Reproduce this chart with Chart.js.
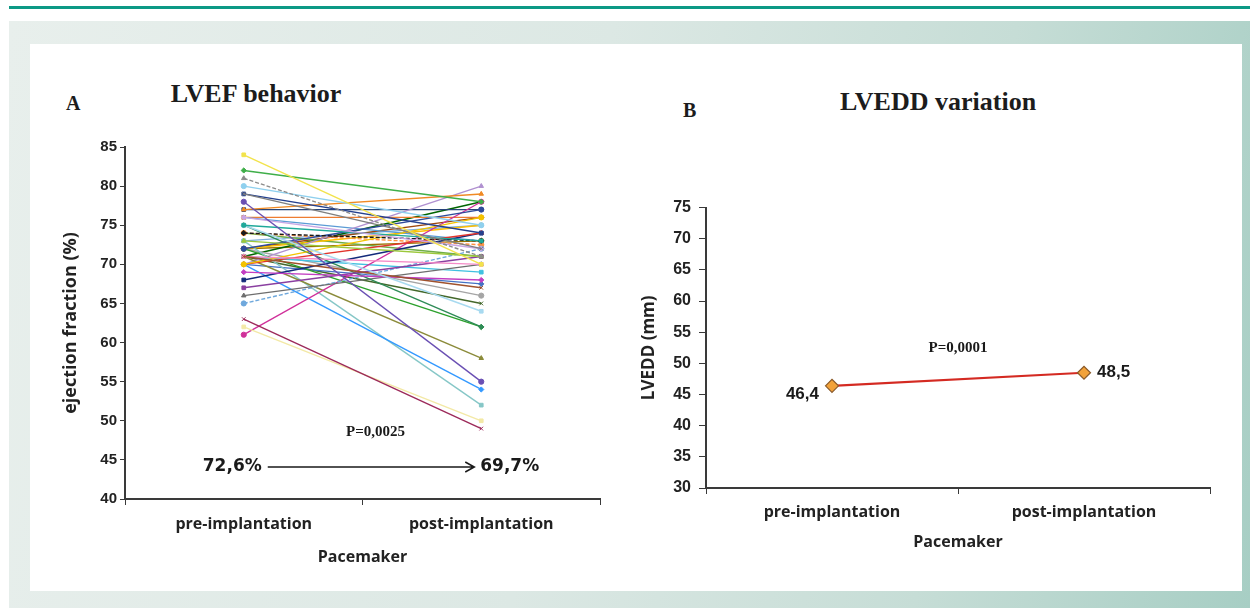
<!DOCTYPE html>
<html>
<head>
<meta charset="utf-8">
<script src="https://cdn.jsdelivr.net/npm/chart.js@4.4.1/dist/chart.umd.min.js"></script>
<style>
html, body { margin:0; padding:0; width:1250px; height:608px; overflow:hidden; background:#fff; }
#topline { position:absolute; left:9px; top:6px; width:1241px; height:3px; background:#0c9985; }
#panel { position:absolute; left:9px; top:21px; width:1241px; height:587px;
  background: linear-gradient(100deg, #e8efec 0%, #dce8e4 45%, #c6ddd6 75%, #a7cec4 100%); }
#sheet { position:absolute; left:30px; top:44px; width:1212px; height:547px; background:#fff; }
.ttl { position:absolute; font-family:'Liberation Serif','Times New Roman',serif; font-weight:bold; color:#1c1c1c; white-space:nowrap; }
canvas { position:absolute; }
</style>
</head>
<body>
<div id="topline"></div>
<div id="panel"></div>
<div id="sheet"></div>

<div class="ttl" style="left:66px;top:92px;font-size:20px;">A</div>
<div class="ttl" style="left:126px;top:79px;width:260px;text-align:center;font-size:26px;">LVEF behavior</div>
<div class="ttl" style="left:683px;top:99px;font-size:20px;">B</div>
<div class="ttl" style="left:808px;top:87px;width:260px;text-align:center;font-size:26px;">LVEDD variation</div>

<canvas id="chartA" width="580" height="440" style="left:40px;top:135px;"></canvas>
<canvas id="chartB" width="600" height="380" style="left:630px;top:190px;"></canvas>

<script>
// categories and values
var categories = ["pre-implantation", "post-implantation"];

// LVEF per patient (%)
var lvefPre  = [84, 82, 81, 80, 79, 79, 78, 77, 76, 75, 75, 74, 73, 72, 71, 71, 70, 70, 69, 68, 67, 75, 66,
                65, 63, 62, 61, 71, 70, 73, 71, 72, 70, 74, 76, 76, 72, 72, 70, 74, 77, 72, 71, 72, 71, 73];
var lvefPost = [70, 78, 71, 75, 72, 74, 55, 79, 72, 73, 64, 73, 71, 77, 67, 70, 76, 74, 68, 74, 71, 62, 70,
                72, 49, 50, 78, 58, 54, 52, 69, 62, 80, 72.5, 73, 76, 66, 75, 67.5, 71, 77, 76, 78, 73, 65, 75];
var lineColors = ['#f2e34c','#3fae49','#8c8c8c','#8fd0ee','#7f7f7f','#24408e','#6a4fb3','#f08a24','#c9a6e4','#1fa99a',
                  '#a8daf0','#1a1a1a','#9cc83b','#2f4b9b','#a0522d','#f58cc8','#f4c300','#e2342b','#c23ec2','#132a7a',
                  '#8a3fa0','#2e8b57','#6e6e6e','#6fa8dc','#9c2a5a','#f3e9a6','#d0309a','#8b8b3a','#3399ff','#86c7c7',
                  '#40c0e0','#2ca02c','#b090d0','#ff9040','#5b9bd5','#ed7d31','#a5a5a5','#ffc000','#4472c4','#70ad47',
                  '#264478','#9e480e','#006400','#997300','#43682b','#7cafdd'];
var markers = ['rect','rectRot','triangle','circle','crossRot','rect','circle','triangle','rectRot','rect'];
var dashedLines = [2, 11, 33, 23];

var lvefMeans = [72.6, 69.7];
var lvefP = "P=0,0025";
var lvefTicks = { min: 40, max: 85, step: 5 };

// LVEDD means (mm), panel B
var lveddValues = [46.4, 48.5];
var lveddP = "P=0,0001";
var lveddTicks = { min: 30, max: 75, step: 5 };

function fmt(v) { return String(v).replace('.', ','); }

var tickFontA = { family: "'Liberation Sans', Arial, sans-serif", weight: 'bold', size: 15 };
var tickFontB = { family: "'Liberation Sans', Arial, sans-serif", weight: 'bold', size: 16 };
var catFont = { family: "'Open Sans', sans-serif", weight: 'bold', size: 16 };
var axisCol = '#3a3a3a';

// panel A datasets
var setsA = [];
lvefPre.forEach(function (v, i) {
    setsA.push({
        label: 'patient ' + (i + 1),
        data: [v, lvefPost[i]],
        borderColor: lineColors[i],
        backgroundColor: lineColors[i],
        borderWidth: 1.4,
        borderDash: dashedLines.indexOf(i) >= 0 ? [4, 2] : [],
        pointStyle: markers[i % markers.length],
        pointRadius: 2.6,
        pointBorderWidth: 1,
        tension: 0
    });
});

var notesA = {
    id: 'notesA',
    afterDatasetsDraw: function (chart) {
        var ctx = chart.ctx, x = chart.scales.x, y = chart.scales.y;
        var x0 = x.getPixelForValue(0), x1 = x.getPixelForValue(1);
        var ya = y.getPixelForValue(44.1);
        ctx.save();
        ctx.fillStyle = '#1a1a1a';
        ctx.strokeStyle = '#1a1a1a';
        ctx.textBaseline = 'middle';
        ctx.font = "bold 17px 'DejaVu Sans', sans-serif";
        ctx.textAlign = 'right';
        ctx.fillText(fmt(lvefMeans[0]) + '%', x0 + 18, ya);
        ctx.textAlign = 'left';
        ctx.fillText(fmt(lvefMeans[1]) + '%', x1 - 1, ya);
        ctx.lineWidth = 1.6;
        ctx.beginPath();
        ctx.moveTo(x0 + 24, ya);
        ctx.lineTo(x1 - 7, ya);
        ctx.moveTo(x1 - 16, ya - 5);
        ctx.lineTo(x1 - 7, ya);
        ctx.lineTo(x1 - 16, ya + 5);
        ctx.stroke();
        ctx.font = "bold 15px 'Liberation Serif', serif";
        ctx.textAlign = 'center';
        ctx.fillText(lvefP, x0 + 0.555 * (x1 - x0), y.getPixelForValue(48.5));
        ctx.restore();
    }
};

new Chart("chartA", {
    type: 'line',
    data: { labels: categories, datasets: setsA },
    options: {
        responsive: false,
        devicePixelRatio: 1,
        animation: false,
        layout: { padding: { top: 10, right: 20, left: 0, bottom: 0 } },
        plugins: { legend: { display: false }, tooltip: { enabled: false } },
        scales: {
            x: {
                offset: true,
                grid: { offset: true, drawOnChartArea: false, tickLength: 6, color: axisCol },
                border: { color: axisCol, width: 2 },
                ticks: { font: catFont, color: '#222', padding: 10 },
                title: { display: true, text: 'Pacemaker', font: catFont, color: '#222', padding: { top: 0, bottom: 8 } },
                afterFit: function (s) { s.height = 76; }
            },
            y: {
                min: lvefTicks.min, max: lvefTicks.max,
                grid: { drawOnChartArea: false, tickLength: 5, color: axisCol },
                border: { color: axisCol, width: 2 },
                ticks: { stepSize: lvefTicks.step, font: tickFontA, color: '#222', padding: 3 },
                title: { display: true, text: 'ejection fraction (%)', font: { family: "'Open Sans', sans-serif", weight: 'bold', size: 18 }, color: '#222', padding: { top: 20, bottom: 0 } },
                afterFit: function (s) { s.width = 85; }
            }
        }
    },
    plugins: [notesA]
});

// panel B
var notesB = {
    id: 'notesB',
    afterDatasetsDraw: function (chart) {
        var ctx = chart.ctx, x = chart.scales.x, y = chart.scales.y;
        var x0 = x.getPixelForValue(0), x1 = x.getPixelForValue(1);
        ctx.save();
        ctx.fillStyle = '#1a1a1a';
        ctx.textBaseline = 'middle';
        ctx.font = "bold 17px 'Liberation Sans', Arial, sans-serif";
        ctx.textAlign = 'right';
        ctx.fillText(fmt(lveddValues[0]), x0 - 13, y.getPixelForValue(lveddValues[0]) + 9);
        ctx.textAlign = 'left';
        ctx.fillText(fmt(lveddValues[1]), x1 + 13, y.getPixelForValue(lveddValues[1]));
        ctx.font = "bold 15px 'Liberation Serif', serif";
        ctx.textAlign = 'center';
        ctx.fillText(lveddP, (x0 + x1) / 2, y.getPixelForValue(52.5));
        ctx.restore();
    }
};

new Chart("chartB", {
    type: 'line',
    data: {
        labels: categories,
        datasets: [{
            label: 'LVEDD',
            data: lveddValues,
            borderColor: '#d42a22',
            borderWidth: 2.2,
            backgroundColor: '#f2a23a',
            pointStyle: 'rectRot',
            pointRadius: 6.5,
            pointBorderColor: '#8a5a2a',
            pointBorderWidth: 1.2,
            tension: 0
        }]
    },
    options: {
        responsive: false,
        devicePixelRatio: 1,
        animation: false,
        layout: { padding: { top: 15, right: 20, left: 0, bottom: 0 } },
        plugins: { legend: { display: false }, tooltip: { enabled: false } },
        scales: {
            x: {
                offset: true,
                grid: { offset: true, drawOnChartArea: false, tickLength: 6, color: axisCol },
                border: { color: axisCol, width: 2 },
                ticks: { font: catFont, color: '#222', padding: 9 },
                title: { display: true, text: 'Pacemaker', font: catFont, color: '#222', padding: { top: 0, bottom: 18 } },
                afterFit: function (s) { s.height = 82; }
            },
            y: {
                min: lveddTicks.min, max: lveddTicks.max,
                grid: { drawOnChartArea: false, tickLength: 7, color: axisCol },
                border: { color: axisCol, width: 2 },
                ticks: { stepSize: lveddTicks.step, font: tickFontB, color: '#222', padding: 8 },
                title: { display: true, text: 'LVEDD (mm)', font: { family: "'Open Sans', sans-serif", weight: 'bold', size: 17 }, color: '#222', padding: { top: 9, bottom: 0 } },
                afterFit: function (s) { s.width = 76; }
            }
        }
    },
    plugins: [notesB]
});
</script>
</body>
</html>
